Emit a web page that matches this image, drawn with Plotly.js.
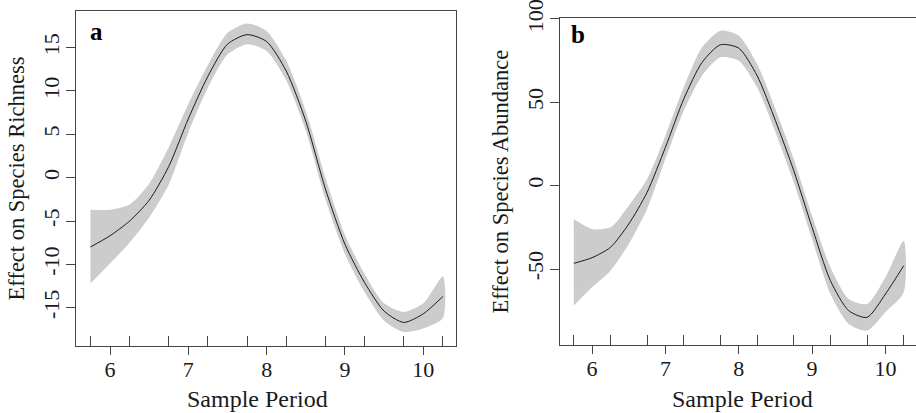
<!DOCTYPE html>
<html>
<head>
<meta charset="utf-8">
<script src="https://cdn.plot.ly/plotly-3.0.1.min.js"></script>
<style>html,body{margin:0;padding:0;background:#fff;}#chart{width:916px;height:413px;}</style>
</head>
<body>
<div id="chart"></div>
<script>
// Sample period grid (shared by both panels)
const period = [5.75, 6.0, 6.25, 6.5, 6.75, 7.0, 7.25, 7.5, 7.75, 8.0, 8.25, 8.5, 8.75, 9.0, 9.25, 9.5, 9.75, 10.0, 10.25];
// Rug marks (observed sample periods)
const rugPeriods = [5.75, 6.25, 6.75, 7.25, 7.75, 8.25, 8.75, 9.25, 9.75, 10.25];

// Panel a: effect on species richness
const richFit   = [-8.0, -6.7, -5.0, -2.6, 1.3, 6.8, 11.7, 15.4, 16.5, 15.7, 12.3, 6.5, -1.3, -7.7, -12.1, -15.4, -16.7, -15.7, -13.7];
const richUpper = [-3.7, -3.7, -3.1, -0.7, 3.5, 8.5, 13.0, 16.7, 17.8, 16.9, 13.5, 7.7, 0.0, -6.6, -11.1, -14.5, -15.5, -14.5, -11.4];
const richLower = [-12.2, -9.9, -7.5, -4.6, -0.8, 5.2, 10.4, 14.2, 15.4, 14.6, 11.2, 5.4, -2.5, -8.8, -13.2, -16.5, -17.8, -17.4, -16.2];

// Panel b: effect on species abundance
const abunFit   = [-46.6, -43.2, -37.0, -23.0, -4.0, 23.0, 52.0, 74.0, 84.5, 82.5, 66.0, 39.0, 9.0, -25.0, -57.0, -75.0, -79.0, -65.0, -48.0];
const abunUpper = [-20.0, -26.0, -25.0, -12.0, 4.0, 30.0, 59.0, 83.0, 93.0, 90.0, 73.0, 46.0, 16.0, -18.0, -49.0, -68.0, -71.0, -55.0, -33.0];
const abunLower = [-72.0, -61.0, -51.0, -35.0, -14.0, 16.0, 45.0, 66.0, 77.0, 75.0, 59.0, 32.0, 2.0, -32.0, -65.0, -83.0, -87.0, -76.0, -64.0];

const xTicks = [6, 7, 8, 9, 10];
const xTickText = ['6', '7', '8', '9', '10'];
const richTicks = [-15, -10, -5, 0, 5, 10, 15];
const richTickText = ['-15', '-10', '-5', '0', '5', '10', '15'];
const abunTicks = [-50, 0, 50, 100];
const abunTickText = ['-50', '0', '50', '100'];

function band(x, up, lo, xa, ya) {
  return {
    x: x.concat(x.slice().reverse()),
    y: up.concat(lo.slice().reverse()),
    type: 'scatter', mode: 'lines', fill: 'toself',
    fillcolor: '#cccccc', line: {width: 0, color: '#cccccc', shape: 'spline', smoothing: 0.7},
    hoverinfo: 'skip', showlegend: false, xaxis: xa, yaxis: ya
  };
}
function fit(x, y, xa, ya) {
  return {
    x: x, y: y, type: 'scatter', mode: 'lines',
    line: {color: '#1a1a1a', width: 1, shape: 'spline', smoothing: 0.7},
    showlegend: false, xaxis: xa, yaxis: ya
  };
}

const data = [
  band(period, richUpper, richLower, 'x', 'y'),
  fit(period, richFit, 'x', 'y'),
  band(period, abunUpper, abunLower, 'x2', 'y2'),
  fit(period, abunFit, 'x2', 'y2')
];

const FONT = "'Liberation Serif', 'Times New Roman', serif";
const tickFont = {family: FONT, size: 22, color: '#1a1a1a'};
const xTitleFont = {family: FONT, size: 24, color: '#1a1a1a'};
const yTitleFont = {family: FONT, size: 22.5, color: '#1a1a1a'};
const LC = '#454545';

const baseX = {
  tickmode: 'array', tickvals: xTicks, ticktext: xTickText, ticks: 'outside', ticklen: 8, tickcolor: LC,
  showline: true, mirror: true, linecolor: LC, linewidth: 1, showgrid: false, zeroline: false,
  tickfont: tickFont, automargin: false, ticklabelstandoff: -4, ticklabeloverflow: 'allow'
};
const baseY = {
  tickmode: 'array', ticks: 'outside', ticklen: 9, tickcolor: LC, tickangle: -90,
  showline: true, mirror: true, linecolor: LC, linewidth: 1, showgrid: false, zeroline: false,
  tickfont: tickFont, automargin: false, ticklabelstandoff: -2, ticklabeloverflow: 'allow'
};
const rugAxis = {
  tickmode: 'array', tickvals: rugPeriods, ticks: 'inside', ticklen: 10, tickcolor: LC,
  showticklabels: false, showline: false, showgrid: false, zeroline: false
};

const layout = {
  width: 916, height: 413,
  margin: {l: 0, r: 0, t: 0, b: 0},
  paper_bgcolor: '#ffffff', plot_bgcolor: '#ffffff',
  showlegend: false,
  xaxis: Object.assign({}, baseX, {domain: [0.0830, 0.4978], range: [5.566, 10.417], anchor: 'y'}),
  yaxis: Object.assign({}, baseY, {domain: [0.1622, 0.9734], range: [-19.42, 19.23], anchor: 'x',
    tickvals: richTicks, ticktext: richTickText,
    title: {text: 'Effect on Species Richness', font: yTitleFont, standoff: 8}}),
  xaxis2: Object.assign({}, baseX, {domain: [0.6114, 1.0], range: [5.563, 10.417], anchor: 'y2'}),
  yaxis2: Object.assign({}, baseY, {domain: [0.1646, 0.9557], range: [-95.6, 100.4], anchor: 'x2',
    tickvals: abunTicks, ticktext: abunTickText,
    title: {text: 'Effect on Species Abundance', font: yTitleFont, standoff: 8}}),
  xaxis3: Object.assign({}, rugAxis, {overlaying: 'x', anchor: 'y', range: [5.566, 10.417]}),
  xaxis4: Object.assign({}, rugAxis, {overlaying: 'x2', anchor: 'y2', range: [5.563, 10.417]}),
  annotations: [
    {text: '<b>a</b>', xref: 'x domain', yref: 'y domain', x: 0.055, y: 0.94, showarrow: false,
     font: {family: FONT, size: 25, color: '#000'}, xanchor: 'center', yanchor: 'middle'},
    {text: '<b>b</b>', xref: 'x2 domain', yref: 'y2 domain', x: 0.05, y: 0.95, showarrow: false,
     font: {family: FONT, size: 25, color: '#000'}, xanchor: 'center', yanchor: 'middle'},
    {text: 'Sample Period', xref: 'paper', yref: 'paper', x: 257 / 916, y: 0, showarrow: false,
     font: xTitleFont, xanchor: 'center', yanchor: 'bottom', borderpad: 0},
    {text: 'Sample Period', xref: 'paper', yref: 'paper', x: 742 / 916, y: 0, showarrow: false,
     font: xTitleFont, xanchor: 'center', yanchor: 'bottom', borderpad: 0}
  ]
};

// empty traces so the rug axes render
data.push({x: [null], y: [null], xaxis: 'x3', yaxis: 'y', type: 'scatter', showlegend: false, hoverinfo: 'skip'});
data.push({x: [null], y: [null], xaxis: 'x4', yaxis: 'y2', type: 'scatter', showlegend: false, hoverinfo: 'skip'});

Plotly.newPlot('chart', data, layout, {staticPlot: true, displayModeBar: false});
</script>
</body>
</html>
